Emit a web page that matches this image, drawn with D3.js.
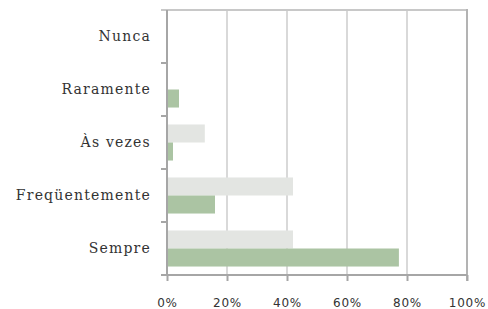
<!DOCTYPE html>
<html>
<head>
<meta charset="utf-8">
<script src="https://cdn.jsdelivr.net/npm/d3@7"></script>
<style>
  body { margin: 0; background: #fff; }
</style>
</head>
<body>
<script>
var categories = ["Nunca", "Raramente", "Às vezes", "Freqüentemente", "Sempre"],
    series = ["a", "b"],
    seriesA = [0, 0, 12.6, 42, 42],
    seriesB = [0, 4, 2, 16, 77.3],
    xTicks = [0, 20, 40, 60, 80, 100],
    colors = ["#e3e5e2", "#abc4a3"];

var w = 488, h = 309,
    plotLeft = 167, plotRight = 467, plotTop = 10, plotBottom = 275;

var svg = d3.select("body")
    .append("svg")
    .attr("width", w)
    .attr("height", h);

var x = d3.scaleLinear().domain([0, 100]).range([plotLeft, plotRight]);
var y0 = d3.scaleBand().domain(categories).range([plotTop, plotBottom]);
var y1 = d3.scaleBand().domain(series).range([0, y0.bandwidth()]).paddingOuter(0.47);

// gridlines
svg.selectAll("line.grid")
    .data(xTicks.slice(1, -1))
    .enter()
    .append("line")
    .attr("x1", function (d) { return x(d); })
    .attr("x2", function (d) { return x(d); })
    .attr("y1", plotTop)
    .attr("y2", plotBottom)
    .attr("stroke", "#d9d9d9")
    .attr("stroke-width", 2);

// top and right border
svg.append("line")
    .attr("x1", plotLeft - 6).attr("x2", plotRight)
    .attr("y1", plotTop).attr("y2", plotTop)
    .attr("stroke", "#c8c8c8").attr("stroke-width", 2);
svg.append("line")
    .attr("x1", plotRight).attr("x2", plotRight)
    .attr("y1", plotTop - 1).attr("y2", plotBottom + 6)
    .attr("stroke", "#b3b3b3").attr("stroke-width", 2);

var rows = categories.map(function (c, i) {
    return { cat: c, vals: [seriesA[i], seriesB[i]] };
});

var groups = svg.selectAll("g.row")
    .data(rows)
    .enter()
    .append("g")
    .attr("transform", function (d) { return "translate(0," + y0(d.cat) + ")"; });

groups.selectAll("rect")
    .data(function (d) { return d.vals.map(function (v, j) { return { s: series[j], v: v, j: j }; }); })
    .enter()
    .append("rect")
    .attr("x", x(0))
    .attr("y", function (d) { return y1(d.s); })
    .attr("width", function (d) { return x(d.v) - x(0); })
    .attr("height", y1.bandwidth())
    .attr("fill", function (d) { return colors[d.j]; });

// x axis
var xAxis = svg.append("g")
    .attr("transform", "translate(0," + plotBottom + ")")
    .call(d3.axisBottom(x).tickValues(xTicks).tickSize(6).tickPadding(17)
        .tickFormat(function (d) { return d + "%"; }));
xAxis.select(".domain").attr("stroke", "#a6a6a6").attr("stroke-width", 2)
    .attr("d", "M" + (plotLeft - 6) + ",0H" + plotRight);
xAxis.selectAll(".tick line").attr("stroke", "#a6a6a6").attr("stroke-width", 2);
xAxis.selectAll(".tick text")
    .attr("fill", "#333")
    .attr("font-family", "DejaVu Sans")
    .attr("font-size", "12px")
    .attr("letter-spacing", "0.8px");

// y axis
var bounds = categories.map(function (c) { return y0(c); }).concat([plotBottom]);
svg.append("line")
    .attr("x1", plotLeft).attr("x2", plotLeft)
    .attr("y1", plotTop).attr("y2", plotBottom)
    .attr("stroke", "#a6a6a6").attr("stroke-width", 2);
svg.selectAll("line.ytick")
    .data(bounds.slice(1))
    .enter()
    .append("line")
    .attr("x1", plotLeft - 6).attr("x2", plotLeft)
    .attr("y1", function (d) { return d; })
    .attr("y2", function (d) { return d; })
    .attr("stroke", "#a6a6a6").attr("stroke-width", 2);

svg.selectAll("text.cat")
    .data(categories)
    .enter()
    .append("text")
    .text(function (d) { return d; })
    .attr("x", 151)
    .attr("y", function (d) { return y0(d) + y0.bandwidth() / 2 + 4; })
    .attr("text-anchor", "end")
    .attr("fill", "#333")
    .attr("font-family", "DejaVu Serif")
    .attr("font-size", "14px")
    .attr("letter-spacing", "1.2px");
</script>
</body>
</html>
